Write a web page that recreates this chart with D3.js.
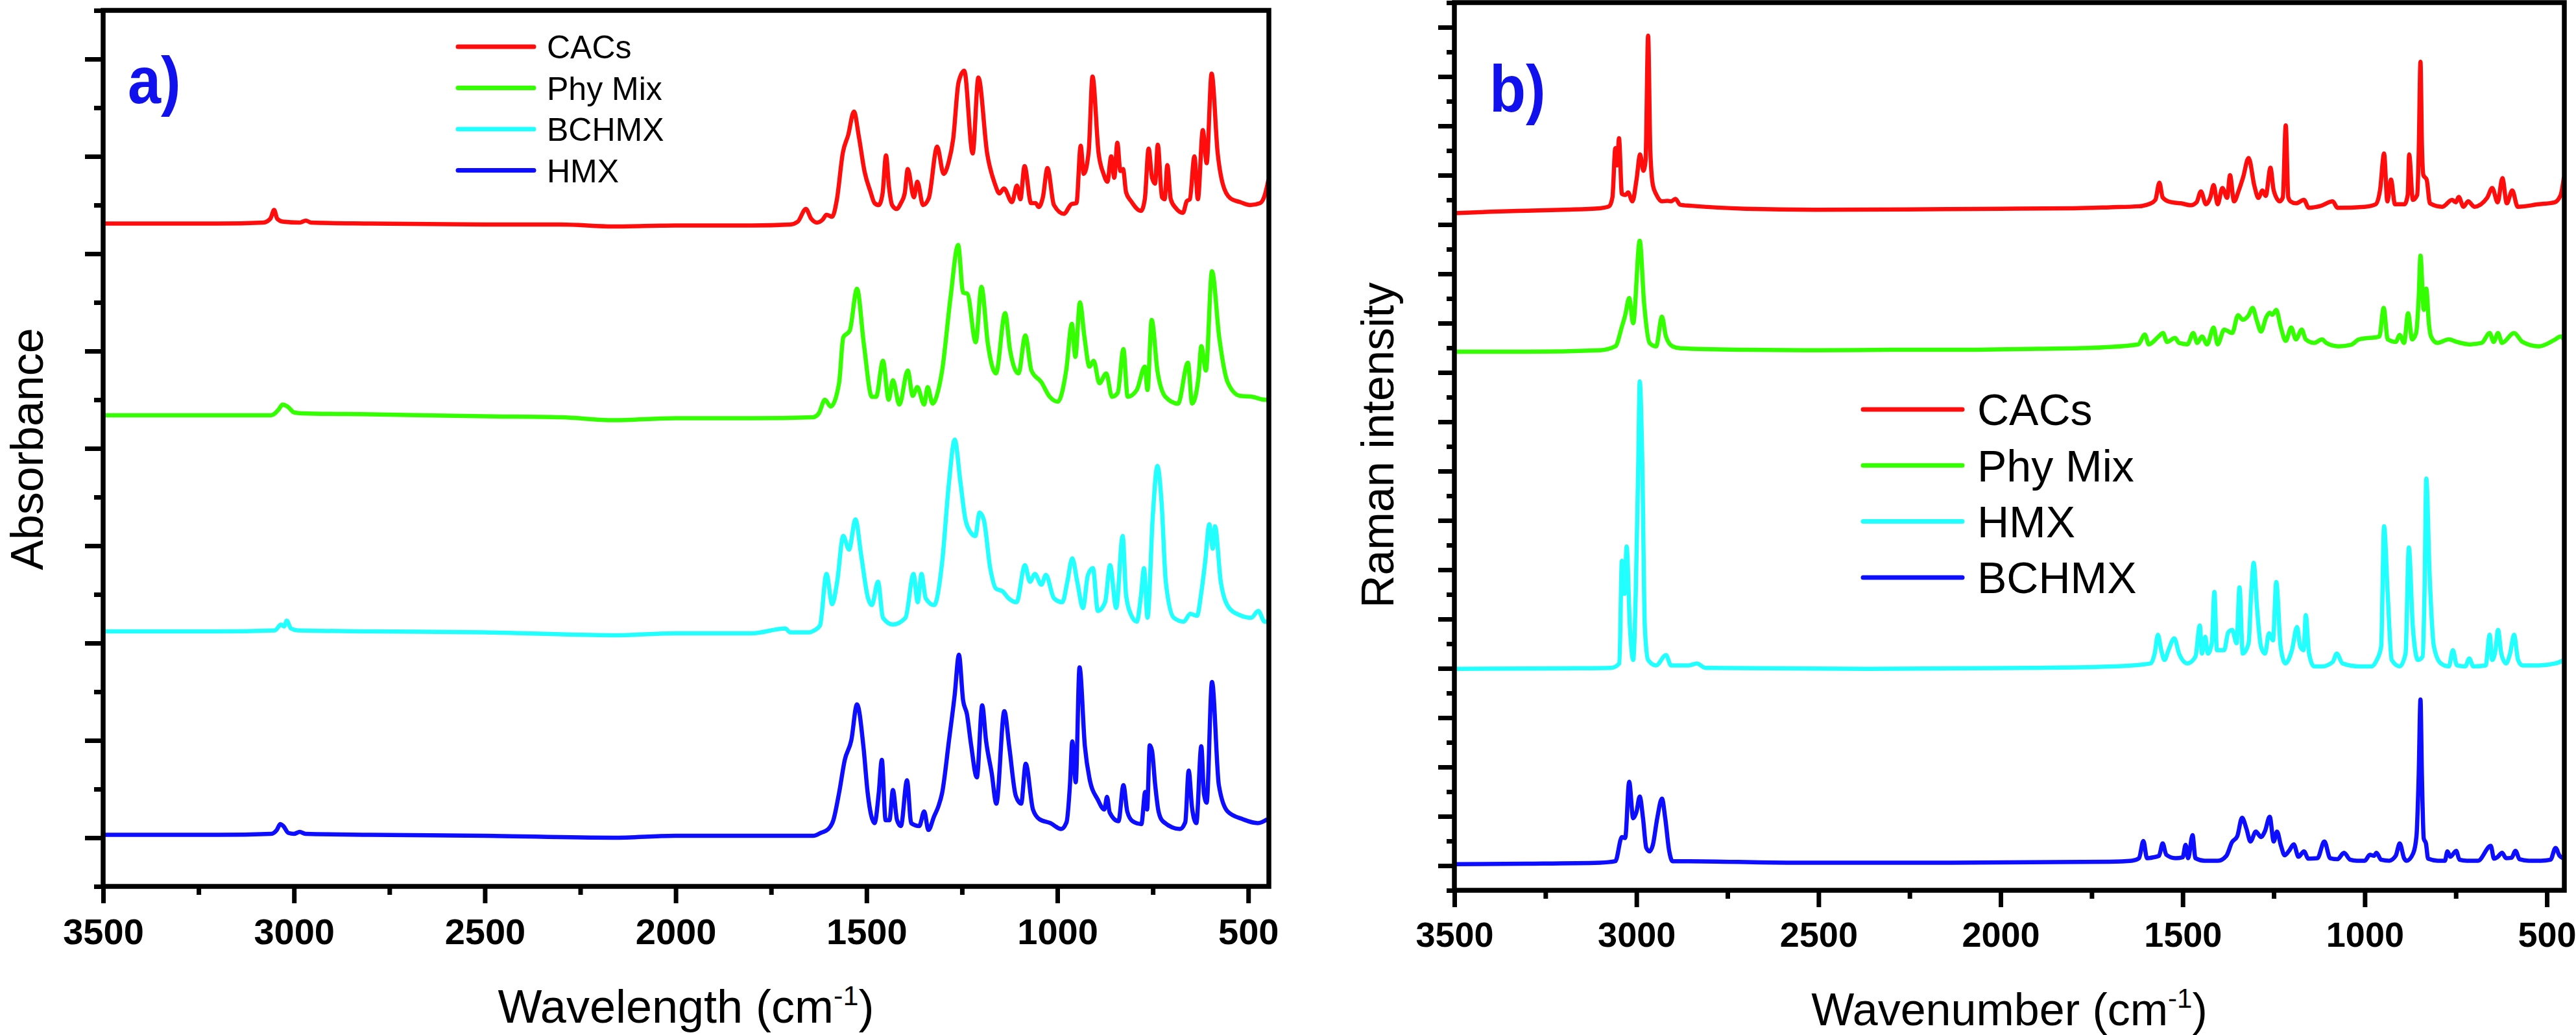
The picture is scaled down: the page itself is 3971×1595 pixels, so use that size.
<!DOCTYPE html>
<html>
<head>
<meta charset="utf-8">
<script src="https://cdn.jsdelivr.net/npm/d3@7"></script>
<style>
  body { margin: 0; background: #fff; }
  text { font-family: "Liberation Sans", Arial, Helvetica, sans-serif; }
</style>
</head>
<body>
<div id="chart"></div>
<script>
// ---- data: [wavenumber (cm-1), stacked intensity] ----

// a) FTIR
var ftirNames = ['CACs', 'Phy Mix', 'BCHMX', 'HMX'];

var ftirCACs = [[3500,6.31],[3200,6.31],[3080,6.32],[3062,6.36],[3052,6.45],[3044,6.36],[3030,6.33],[2985,6.32],[2969,6.34],[2955,6.32],
  [2800,6.31],[2500,6.30],[2300,6.30],[2164,6.28],[2000,6.29],[1800,6.29],[1700,6.30],[1680,6.33],[1659,6.46],[1645,6.36],
  [1630,6.32],[1615,6.35],[1605,6.40],[1590,6.38],[1578,6.55],[1562,7.04],[1548,7.22],[1533,7.46],[1520,7.20],[1505,6.84],
  [1490,6.64],[1479,6.52],[1468,6.50],[1458,6.62],[1449,7.01],[1441,6.68],[1433,6.50],[1421,6.46],[1410,6.52],[1400,6.62],
  [1392,6.87],[1376,6.58],[1367,6.74],[1352,6.50],[1337,6.57],[1315,7.10],[1298,6.82],[1285,6.94],[1273,7.18],[1259,7.76],
  [1244,7.88],[1222,7.03],[1207,7.81],[1184,7.03],[1164,6.72],[1152,6.62],[1140,6.67],[1119,6.53],[1106,6.70],[1097,6.56],
  [1086,6.90],[1069,6.52],[1057,6.52],[1049,6.48],[1038,6.58],[1026,6.88],[1009,6.50],[983,6.41],[963,6.51],[950,6.52],
  [939,7.11],[931,6.82],[918,7.05],[908,7.82],[892,7.03],[879,6.82],[869,6.74],[859,7.00],[851,6.78],[843,7.14],
  [835,6.85],[828,6.87],[820,6.63],[807,6.54],[781,6.44],[771,6.56],[761,7.08],[752,6.78],[744,6.72],[737,7.12],
  [726,6.58],[719,6.56],[712,6.91],[703,6.56],[690,6.47],[671,6.42],[661,6.54],[653,6.56],[641,7.00],[632,6.56],
  [619,7.27],[609,6.93],[596,7.85],[580,7.03],[567,6.72],[547,6.57],[521,6.53],[495,6.50],[469,6.52],[456,6.61],[447,6.76]];

var ftirPhyMix = [[3500,4.34],[3200,4.34],[3060,4.34],[3040,4.40],[3030,4.45],[3017,4.43],[3000,4.37],[2980,4.36],[2800,4.35],[2500,4.33],
  [2300,4.32],[2164,4.29],[2000,4.31],[1800,4.31],[1640,4.32],[1625,4.36],[1609,4.50],[1594,4.43],[1572,4.67],[1561,5.14],
  [1544,5.21],[1525,5.64],[1507,5.07],[1486,4.53],[1475,4.53],[1457,4.90],[1442,4.50],[1431,4.70],[1414,4.45],[1392,4.80],
  [1379,4.54],[1367,4.63],[1349,4.45],[1340,4.63],[1327,4.46],[1312,4.60],[1302,4.80],[1280,5.55],[1260,6.09],[1247,5.60],
  [1236,5.59],[1214,5.09],[1199,5.66],[1182,5.07],[1161,4.77],[1137,5.39],[1124,5.01],[1102,4.77],[1084,5.16],[1068,4.80],
  [1042,4.68],[1020,4.53],[999,4.48],[977,4.80],[962,5.28],[953,4.94],[941,5.50],[929,5.14],[916,4.84],[905,4.90],
  [890,4.67],[872,4.77],[857,4.53],[842,4.57],[827,5.02],[816,4.53],[792,4.60],[771,4.84],[764,4.60],[753,5.32],
  [738,4.80],[717,4.53],[684,4.46],[658,4.88],[647,4.46],[630,4.74],[623,5.05],[611,4.80],[595,5.82],[576,5.14],
  [554,4.68],[522,4.54],[489,4.53],[457,4.50],[446,4.50]];

var ftirBCHMX = [[3500,2.12],[3200,2.12],[3050,2.13],[3034,2.19],[3026,2.17],[3019,2.23],[3008,2.15],[2990,2.13],[2800,2.12],[2500,2.11],
  [2164,2.08],[2000,2.10],[1800,2.10],[1713,2.15],[1700,2.11],[1650,2.11],[1637,2.13],[1622,2.18],[1605,2.71],[1590,2.40],
  [1577,2.63],[1561,3.10],[1546,2.96],[1529,3.27],[1514,2.90],[1496,2.46],[1486,2.39],[1470,2.63],[1457,2.26],[1431,2.19],
  [1398,2.26],[1377,2.71],[1366,2.42],[1356,2.71],[1345,2.46],[1323,2.39],[1302,2.83],[1284,3.65],[1269,4.09],[1254,3.65],
  [1241,3.27],[1226,3.13],[1215,3.10],[1204,3.34],[1193,3.27],[1176,2.77],[1161,2.56],[1143,2.53],[1128,2.46],[1107,2.42],
  [1085,2.80],[1072,2.63],[1059,2.71],[1042,2.60],[1030,2.70],[1009,2.46],[987,2.42],[974,2.63],[961,2.87],[948,2.63],
  [933,2.36],[920,2.70],[907,2.77],[894,2.33],[875,2.42],[862,2.80],[846,2.36],[829,3.10],[820,2.49],[807,2.29],
  [792,2.22],[781,2.49],[773,2.77],[764,2.26],[750,3.31],[738,3.82],[727,3.44],[716,2.63],[695,2.26],[669,2.22],
  [652,2.30],[634,2.28],[624,2.49],[613,2.83],[602,3.22],[593,2.97],[587,3.20],[572,2.63],[550,2.36],[524,2.29],
  [492,2.26],[474,2.33],[457,2.22],[446,2.22]];

var ftirHMX = [[3500,0.03],[3200,0.03],[3060,0.04],[3045,0.08],[3036,0.14],[3028,0.12],[3015,0.05],[3000,0.04],[2985,0.06],[2970,0.04],
  [2800,0.03],[2500,0.02],[2164,0.00],[2000,0.02],[1800,0.02],[1640,0.02],[1620,0.05],[1600,0.09],[1587,0.18],[1572,0.46],
  [1557,0.80],[1540,1.00],[1525,1.37],[1508,0.93],[1497,0.46],[1479,0.15],[1468,0.46],[1460,0.80],[1450,0.18],[1440,0.18],
  [1431,0.49],[1420,0.18],[1410,0.12],[1394,0.59],[1383,0.15],[1362,0.12],[1349,0.27],[1338,0.08],[1323,0.22],[1312,0.32],
  [1302,0.46],[1284,1.00],[1269,1.47],[1258,1.88],[1247,1.41],[1237,1.27],[1226,0.95],[1211,0.62],[1197,1.36],[1187,1.00],
  [1172,0.66],[1160,0.35],[1139,1.30],[1126,0.93],[1109,0.43],[1095,0.35],[1083,0.76],[1064,0.29],[1047,0.19],[1018,0.15],
  [990,0.09],[976,0.16],[967,0.55],[961,0.99],[952,0.57],[942,1.75],[928,0.94],[916,0.61],[894,0.39],[877,0.29],
  [870,0.42],[863,0.26],[840,0.17],[827,0.54],[817,0.27],[803,0.17],[780,0.14],[770,0.47],[765,0.29],[758,0.95],
  [752,0.89],[744,0.55],[735,0.27],[724,0.17],[679,0.09],[665,0.16],[656,0.69],[647,0.30],[636,0.15],[623,0.94],
  [616,0.45],[609,0.36],[595,1.60],[577,0.54],[554,0.27],[514,0.19],[475,0.15],[450,0.19]];

// b) Raman
var ramanNames = ['CACs', 'Phy Mix', 'HMX', 'BCHMX'];

var ramanCACs = [[3500,13.23],[3400,13.26],[3300,13.28],[3200,13.30],[3100,13.33],[3075,13.37],[3066,13.55],[3058,14.55],[3053,14.2],[3048,14.75],
  [3040,13.62],[3030,13.60],[3023,13.65],[3011,13.47],[3000,13.9],[2990,14.42],[2981,14.09],[2975,14.3],[2968,16.83],[2962,14.5],
  [2955,13.8],[2945,13.6],[2930,13.47],[2915,13.48],[2905,13.47],[2893,13.52],[2880,13.40],[2850,13.38],[2700,13.32],[2500,13.30],
  [2200,13.31],[2000,13.32],[1800,13.33],[1700,13.35],[1620,13.37],[1590,13.42],[1575,13.50],[1564,13.85],[1555,13.55],[1540,13.47],
  [1520,13.44],[1505,13.43],[1478,13.39],[1462,13.45],[1450,13.67],[1436,13.41],[1424,13.55],[1415,13.80],[1404,13.41],[1391,13.74],
  [1378,13.54],[1370,14.00],[1359,13.47],[1346,13.69],[1334,13.96],[1319,14.35],[1303,13.78],[1292,13.54],[1281,13.69],[1272,13.58],
  [1259,14.15],[1250,13.69],[1233,13.47],[1225,13.55],[1217,15.01],[1210,13.55],[1204,13.47],[1189,13.43],[1167,13.50],[1154,13.34],
  [1120,13.38],[1088,13.47],[1075,13.34],[1000,13.36],[970,13.41],[958,13.70],[947,14.44],[938,13.47],[928,13.91],[917,13.41],
  [891,13.41],[882,13.60],[878,14.42],[868,13.50],[856,13.60],[852,14.4],[847,16.30],[843,14.6],[839,14.00],[830,13.91],
  [821,13.43],[787,13.36],[760,13.50],[750,13.45],[742,13.56],[729,13.36],[716,13.47],[699,13.36],[664,13.54],[650,13.74],
  [635,13.45],[622,13.94],[610,13.43],[595,13.69],[580,13.36],[523,13.41],[479,13.45],[462,13.60],[453,13.96]];

var ramanPhyMix = [[3500,10.42],[3300,10.42],[3100,10.45],[3058,10.53],[3040,10.93],[3031,11.16],[3020,11.51],[3009,11.00],[2991,12.67],[2979,11.40],
  [2964,10.60],[2946,10.53],[2930,11.13],[2919,10.73],[2901,10.53],[2878,10.49],[2700,10.46],[2500,10.45],[2300,10.46],[2100,10.46],
  [1900,10.48],[1750,10.50],[1622,10.57],[1604,10.77],[1593,10.57],[1566,10.73],[1554,10.80],[1543,10.62],[1521,10.70],[1510,10.60],
  [1487,10.57],[1471,10.80],[1460,10.60],[1447,10.73],[1433,10.57],[1415,10.91],[1404,10.57],[1386,10.87],[1364,10.80],[1348,11.16],
  [1335,11.07],[1319,11.16],[1308,11.31],[1296,11.04],[1285,10.83],[1270,11.13],[1261,11.21],[1254,11.17],[1243,11.27],[1231,10.93],
  [1217,10.64],[1202,10.91],[1189,10.67],[1173,10.87],[1162,10.67],[1139,10.60],[1117,10.67],[1106,10.60],[1072,10.53],[1038,10.56],
  [1016,10.67],[960,10.73],[948,11.31],[937,10.67],[915,10.62],[904,10.76],[892,10.60],[881,11.20],[870,10.67],[859,10.80],
  [852,11.5],[847,12.37],[838,11.27],[831,11.70],[824,11.0],[818,10.73],[801,10.60],[769,10.67],[747,10.62],[713,10.57],
  [679,10.60],[657,10.80],[646,10.62],[634,10.80],[623,10.60],[590,10.80],[567,10.62],[522,10.53],[477,10.67],[462,10.73],[450,10.62]];

var ramanHMX = [[3500,3.99],[3200,4.00],[3069,4.01],[3047,4.10],[3040,6.18],[3033,5.51],[3027,6.47],[3018,4.84],[3009,4.17],[3002,5.51],
  [2995,8.19],[2991,9.82],[2984,8.19],[2977,4.84],[2968,4.17],[2946,4.06],[2919,4.27],[2905,4.06],[2856,4.06],[2834,4.10],
  [2811,4.01],[2362,3.99],[1913,4.01],[1689,4.04],[1588,4.10],[1577,4.30],[1568,4.68],[1559,4.37],[1550,4.17],[1539,4.37],
  [1523,4.61],[1510,4.30],[1487,4.10],[1465,4.24],[1453,4.87],[1447,4.30],[1438,4.64],[1431,4.30],[1420,4.51],[1413,5.55],
  [1406,4.37],[1386,4.37],[1375,4.73],[1364,4.78],[1352,4.51],[1344,5.64],[1335,4.30],[1319,4.51],[1312,5.51],[1305,6.14],
  [1296,5.24],[1285,4.44],[1274,4.30],[1263,4.71],[1252,4.57],[1243,5.75],[1231,4.44],[1218,4.10],[1200,4.37],[1186,4.84],
  [1177,4.44],[1168,4.37],[1162,5.08],[1153,4.30],[1139,4.04],[1117,4.04],[1088,4.13],[1077,4.30],[1061,4.10],[1016,4.04],
  [982,4.04],[967,4.17],[955,4.44],[947,6.88],[937,5.51],[926,4.17],[904,4.04],[888,4.30],[879,6.45],[868,4.84],
  [854,4.17],[841,4.24],[836,5.51],[831,7.85],[822,5.91],[810,4.44],[791,4.10],[769,4.04],[758,4.37],[747,4.06],
  [724,4.04],[713,4.20],[702,4.04],[668,4.06],[657,4.68],[650,4.17],[641,4.37],[634,4.78],[625,4.30],[612,4.10],
  [601,4.30],[590,4.68],[579,4.17],[567,4.06],[522,4.06],[477,4.10],[452,4.17]];

var ramanBCHMX = [[3500,0.03],[3300,0.04],[3100,0.06],[3058,0.09],[3040,0.58],[3031,0.56],[3020,1.70],[3009,0.96],[3000,1.09],[2991,1.40],
  [2982,0.96],[2973,0.36],[2964,0.29],[2955,0.42],[2943,0.96],[2930,1.36],[2921,0.96],[2910,0.29],[2901,0.09],[2856,0.09],
  [2587,0.06],[2138,0.06],[1700,0.08],[1640,0.10],[1620,0.15],[1608,0.50],[1598,0.15],[1580,0.17],[1565,0.20],[1555,0.45],
  [1545,0.22],[1520,0.15],[1500,0.17],[1492,0.42],[1485,0.15],[1473,0.62],[1465,0.15],[1440,0.10],[1403,0.10],[1380,0.20],
  [1365,0.47],[1350,0.60],[1337,0.97],[1325,0.75],[1314,0.49],[1299,0.69],[1285,0.58],[1274,0.70],[1261,0.99],[1250,0.49],
  [1241,0.69],[1230,0.40],[1220,0.21],[1208,0.30],[1195,0.43],[1182,0.18],[1167,0.29],[1155,0.14],[1130,0.15],[1111,0.49],
  [1095,0.15],[1075,0.13],[1057,0.26],[1040,0.12],[1022,0.10],[1000,0.10],[986,0.22],[975,0.20],[968,0.26],[955,0.12],
  [933,0.10],[915,0.20],[904,0.45],[892,0.15],[885,0.10],[867,0.25],[858,0.60],[852,1.80],[847,3.37],[843,1.80],
  [838,0.55],[832,0.45],[826,0.14],[800,0.10],[780,0.10],[773,0.29],[765,0.18],[749,0.30],[740,0.12],[720,0.10],
  [689,0.10],[654,0.40],[645,0.14],[636,0.17],[623,0.26],[612,0.15],[597,0.16],[586,0.30],[575,0.13],[550,0.10],
  [516,0.10],[490,0.12],[476,0.36],[465,0.20],[452,0.14]];

// axis ticks (cm-1)
var xMajorTicks = [3500, 3000, 2500, 2000, 1500, 1000, 500];
var xMinorTicks = [3250, 2750, 2250, 1750, 1250, 750];

var lineColors = ['#ff0d0d', '#33ff00', '#22ffff', '#0d0dff'];

// ---- chart ----
var svgWidth = 3971;
var svgHeight = 1595;

var svg = d3.select('#chart')
  .append('svg')
  .attr('width', svgWidth)
  .attr('height', svgHeight)
  .style('background', '#fff');

var panels = [
  {
    id: 'a', left: 159, right: 1956, top: 16, bottom: 1366,
    xEnd: 446, yMin: -0.5, yMax: 8.5, yMajor: 28, yMinor: 14, tickFont: 56,
    series: [ftirCACs, ftirPhyMix, ftirBCHMX, ftirHMX], names: ftirNames,
    legend: { x1: 706, x2: 823, y0: 72, step: 63.5, textX: 843, size: 50 },
    label: { text: 'a)', x: 197, y: 159, size: 102 },
    xTitle: 'Wavelength', xTitleSize: 72, xTitleY: 1576,
    yTitle: 'Absorbance', yTitleX: 66, yTitleY: 692, yTitleSize: 70
  },
  {
    id: 'b', left: 2242, right: 3953, top: 4, bottom: 1372,
    xEnd: 452, yMin: -0.5, yMax: 17.5, yMajor: 25, yMinor: 12, tickFont: 54,
    series: [ramanCACs, ramanPhyMix, ramanHMX, ramanBCHMX], names: ramanNames,
    legend: { x1: 2872, x2: 3025, y0: 631, step: 86.3, textX: 3048, size: 68 },
    label: { text: 'b)', x: 2296, y: 172, size: 102 },
    xTitle: 'Wavenumber', xTitleSize: 70, xTitleY: 1580,
    yTitle: 'Raman intensity', yTitleX: 2148, yTitleY: 686, yTitleSize: 70
  }
];

panels.forEach(drawPanel);

function drawPanel(p) {
  var x = d3.scaleLinear().domain([3500, p.xEnd]).range([p.left, p.right]);
  var y = d3.scaleLinear().domain([p.yMin, p.yMax]).range([p.bottom, p.top]);

  var g = svg.append('g').attr('class', 'panel-' + p.id);

  // clip the spectra to the frame
  g.append('clipPath').attr('id', 'clip-' + p.id)
    .append('rect')
    .attr('x', p.left).attr('y', p.top)
    .attr('width', p.right - p.left).attr('height', p.bottom - p.top);

  var line = d3.line()
    .x(function(d) { return x(d[0]); })
    .y(function(d) { return y(d[1]); })
    .curve(d3.curveMonotoneX);

  g.append('g').attr('clip-path', 'url(#clip-' + p.id + ')')
    .selectAll('path')
    .data(p.series)
    .enter()
    .append('path')
    .attr('d', line)
    .attr('fill', 'none')
    .attr('stroke', function(d, i) { return lineColors[i]; })
    .attr('stroke-width', 6.5)
    .attr('stroke-linejoin', 'round');

  // x axis, major + minor
  var xMajor = d3.axisBottom(x).tickValues(xMajorTicks).tickSize(26).tickPadding(23)
    .tickFormat(d3.format('d'));
  var xMinor = d3.axisBottom(x).tickValues(xMinorTicks).tickSize(13).tickFormat('');

  [xMajor, xMinor].forEach(function(ax) {
    var a = g.append('g')
      .attr('transform', 'translate(0,' + p.bottom + ')')
      .call(ax);
    a.select('.domain').remove();
    a.selectAll('line').attr('stroke', '#000').attr('stroke-width', 7);
    a.selectAll('text')
      .attr('fill', '#000')
      .attr('font-size', p.tickFont)
      .attr('font-weight', 'bold')
      .style('font-family', '"Liberation Sans", Arial, sans-serif');
  });

  // y axis ticks only, no labels
  var yMajorVals = d3.range(Math.ceil(p.yMin), Math.floor(p.yMax) + 1);
  var yMinorVals = d3.range(p.yMin, p.yMax + 0.01, 1);
  var yMajor = d3.axisLeft(y).tickValues(yMajorVals).tickSize(p.yMajor).tickFormat('');
  var yMinor = d3.axisLeft(y).tickValues(yMinorVals).tickSize(p.yMinor).tickFormat('');

  [yMajor, yMinor].forEach(function(ax) {
    var a = g.append('g')
      .attr('transform', 'translate(' + p.left + ',0)')
      .call(ax);
    a.select('.domain').remove();
    a.selectAll('line').attr('stroke', '#000').attr('stroke-width', 7);
  });

  // frame
  g.append('rect')
    .attr('x', p.left).attr('y', p.top)
    .attr('width', p.right - p.left).attr('height', p.bottom - p.top)
    .attr('fill', 'none')
    .attr('stroke', '#000')
    .attr('stroke-width', 7.5);

  // panel label
  g.append('text')
    .attr('transform', 'translate(' + p.label.x + ',' + p.label.y + ') scale(0.9,1)')
    .attr('font-size', p.label.size)
    .attr('font-weight', 'bold')
    .attr('fill', '#1111ee')
    .text(p.label.text);

  // legend
  var leg = g.append('g').attr('class', 'legend');
  p.names.forEach(function(name, i) {
    var ly = p.legend.y0 + i * p.legend.step;
    leg.append('line')
      .attr('x1', p.legend.x1).attr('x2', p.legend.x2)
      .attr('y1', ly).attr('y2', ly)
      .attr('stroke', lineColors[i])
      .attr('stroke-width', 7)
      .attr('stroke-linecap', 'round');
    leg.append('text')
      .attr('x', p.legend.textX)
      .attr('y', ly)
      .attr('dy', '0.36em')
      .attr('font-size', p.legend.size)
      .attr('fill', '#000')
      .text(name);
  });

  // axis titles
  var xt = g.append('text')
    .attr('x', (p.left + p.right) / 2)
    .attr('y', p.xTitleY)
    .attr('text-anchor', 'middle')
    .attr('font-size', p.xTitleSize)
    .attr('fill', '#000');
  xt.append('tspan').text(p.xTitle + ' (cm');
  xt.append('tspan').attr('dy', -p.xTitleSize * 0.38).attr('font-size', p.xTitleSize * 0.6).text('-1');
  xt.append('tspan').attr('dy', p.xTitleSize * 0.38).text(')');

  g.append('text')
    .attr('transform', 'translate(' + p.yTitleX + ',' + p.yTitleY + ') rotate(-90)')
    .attr('text-anchor', 'middle')
    .attr('font-size', p.yTitleSize)
    .attr('fill', '#000')
    .text(p.yTitle);
}
</script>
</body>
</html>
